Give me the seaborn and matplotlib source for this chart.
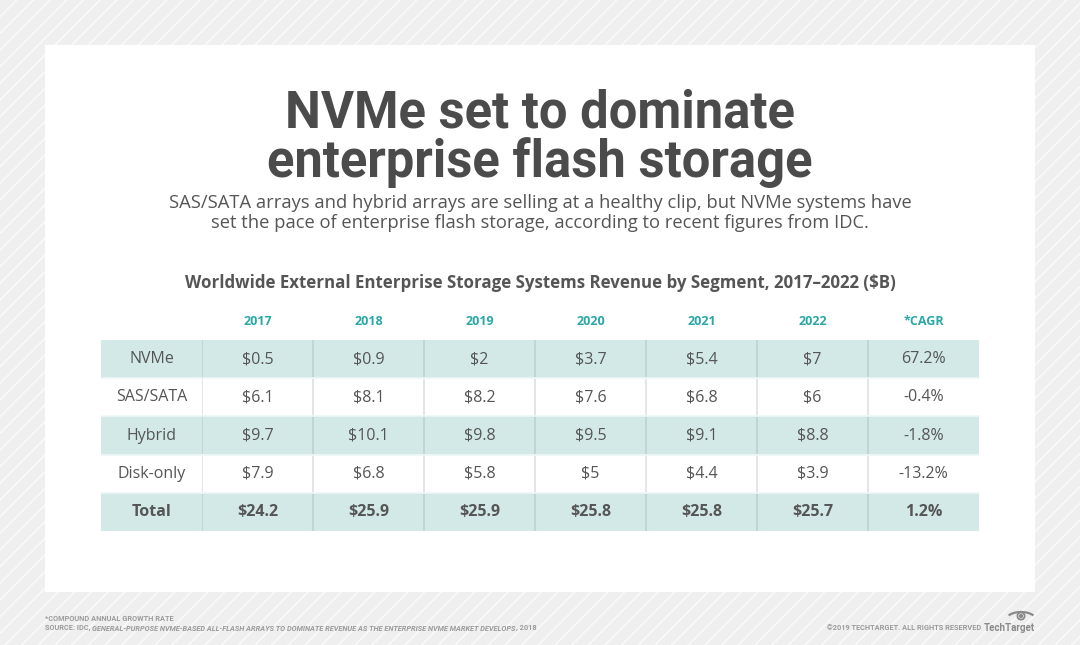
import matplotlib
matplotlib.use('Agg')
import matplotlib.pyplot as plt
import seaborn as sns
import numpy as np
import pandas as pd
from matplotlib.colors import ListedColormap
from matplotlib.patches import Rectangle, Circle, Arc

# ---------------- data ----------------
segments = ['NVMe', 'SAS/SATA', 'Hybrid', 'Disk-only', 'Total']
years = ['2017', '2018', '2019', '2020', '2021', '2022']
nvme = [0.5, 0.9, 2, 3.7, 5.4, 7]
sas_sata = [6.1, 8.1, 8.2, 7.6, 6.8, 6]
hybrid = [9.7, 10.1, 9.8, 9.5, 9.1, 8.8]
disk_only = [7.9, 6.8, 5.8, 5, 4.4, 3.9]
total = [24.2, 25.9, 25.9, 25.8, 25.8, 25.7]
cagr = [67.2, -0.4, -1.8, -13.2, 1.2]
col_labels = years + ['*CAGR']

title_lines = ['NVMe set to dominate', 'enterprise flash storage']
subtitle_lines = ['SAS/SATA arrays and hybrid arrays are selling at a healthy clip, but NVMe systems have',
                  'set the pace of enterprise flash storage, according to recent figures from IDC.']
chart_title = 'Worldwide External Enterprise Storage Systems Revenue by Segment, 2017\u20132022 ($B)'
footnote = '*COMPOUND ANNUAL GROWTH RATE'
source_parts = ['SOURCE: IDC, ',
                'GENERAL-PURPOSE NVME-BASED ALL-FLASH ARRAYS TO DOMINATE REVENUE AS THE ENTERPRISE NVME MARKET DEVELOPS',
                ', 2018']
copyright_txt = '\u00a92019 TECHTARGET. ALL RIGHTS RESERVED'
logo_txt = 'TechTarget'

# ---------------- styling ----------------
sns.set_theme(style='white')
BODY = ['Open Sans', 'DejaVu Sans']
HEAD = ['Roboto', 'DejaVu Sans']
plt.rcParams['font.family'] = BODY
plt.rcParams['hatch.linewidth'] = 1.1
plt.rcParams['hatch.color'] = '#fafafa'

TEXT = '#555555'
TEAL_BG = '#d3e9e8'
TEAL_TX = '#2aa7a7'
FOOT = '#9b9b9b'

W, H = 1080, 645
fig = plt.figure(figsize=(W / 100, H / 100), dpi=100)

# background axes in pixel coordinates
bg = fig.add_axes([0, 0, 1, 1])
bg.set_xlim(0, W)
bg.set_ylim(H, 0)
bg.axis('off')
bg.set_zorder(0)
bg.add_patch(Rectangle((0, 0), W, H, facecolor='#efefef', edgecolor='#fafafa',
                       hatch='//', lw=0, zorder=0))
bg.add_patch(Rectangle((45, 45), 990, 547, facecolor='white', edgecolor='none', zorder=1))

# titles
bg.text(540, 128, title_lines[0], ha='center', va='baseline', fontsize=36.5,
        fontweight='bold', family=HEAD, color='#4b4b4b', zorder=3)
bg.text(540, 177, title_lines[1], ha='center', va='baseline', fontsize=36.5,
        fontweight='bold', family=HEAD, color='#4b4b4b', zorder=3)
bg.text(540, 208, subtitle_lines[0], ha='center', va='baseline', fontsize=13.2,
        color=TEXT, zorder=3)
bg.text(540, 228, subtitle_lines[1], ha='center', va='baseline', fontsize=13.2,
        color=TEXT, zorder=3)
bg.text(540, 288, chart_title, ha='center', va='baseline', fontsize=12.2,
        fontweight='bold', color=TEXT, zorder=3)

# footer
fkw = dict(fontsize=5.3, fontweight='bold', family=HEAD, color=FOOT, zorder=3)
bg.text(45, 621, footnote, ha='left', va='baseline', **fkw)
t0 = bg.text(45, 630, source_parts[0], ha='left', va='baseline', **fkw)
t1 = bg.annotate(source_parts[1], xy=(1, 0), xycoords=t0, ha='left', va='bottom',
                 fontstyle='italic', **fkw)
bg.annotate(source_parts[2], xy=(1, 0), xycoords=t1, ha='left', va='bottom', **fkw)
bg.text(981, 630, copyright_txt, ha='right', va='baseline', **fkw)
bg.text(1035, 631, logo_txt, ha='right', va='baseline', fontsize=7,
        fontweight='bold', family=HEAD, color='#8a8a8a', zorder=3)
bg.add_patch(Circle((1021, 616), 3.6, fill=False, lw=1.3, ec='#8a8a8a', zorder=3))
bg.add_patch(Circle((1021, 616), 1.4, color='#8a8a8a', zorder=3))
bg.add_patch(Arc((1021, 620), 30, 16, theta1=200, theta2=340, lw=1.6,
                 color='#8a8a8a', zorder=3))

# ---------------- table via heatmaps ----------------
values = [nvme, sas_sata, hybrid, disk_only, total]
annot = np.array([['${:g}'.format(v) for v in row] + ['{:.1f}%'.format(c)]
                  for row, c in zip(values, cagr)])
stripe = np.array([[i % 2] * len(col_labels) for i in range(len(segments))])
cmap = ListedColormap([TEAL_BG, '#ffffff'])

top, bottom = 340, 531
left_lbl, mid, right = 101, 202, 979

def fig_rect(x0, x1):
    return [x0 / W, (H - bottom) / H, (x1 - x0) / W, (bottom - top) / H]

ax_lbl = fig.add_axes(fig_rect(left_lbl, mid))
ax_dat = fig.add_axes(fig_rect(mid, right))
for a in (ax_lbl, ax_dat):
    a.set_zorder(2)

cell_kw = {'color': TEXT, 'fontsize': 11.5}
sns.heatmap(stripe[:, :1], ax=ax_lbl, cmap=cmap, vmin=0, vmax=1, cbar=False,
            annot=np.array(segments).reshape(-1, 1), fmt='', annot_kws=cell_kw,
            xticklabels=False, yticklabels=False)
sns.heatmap(pd.DataFrame(stripe, index=segments, columns=col_labels), ax=ax_dat,
            cmap=cmap, vmin=0, vmax=1, cbar=False, annot=annot, fmt='',
            annot_kws=cell_kw, xticklabels=col_labels, yticklabels=False)

for a in (ax_lbl, ax_dat):
    a.set_xlabel('')
    a.set_ylabel('')
    for t in a.texts:
        if abs(t.get_position()[1] - (len(segments) - 0.5)) < 1e-6:
            t.set_fontweight('bold')

ax_dat.xaxis.tick_top()
ax_dat.tick_params(axis='x', length=0, pad=9, labelsize=9, labelcolor=TEAL_TX,
                   rotation=0)
for t in ax_dat.get_xticklabels():
    t.set_fontweight('bold')

for x in range(len(col_labels)):
    ax_dat.axvline(x, color='#8a9a9a', alpha=0.25, lw=1.4)
for a in (ax_lbl, ax_dat):
    for y in range(1, len(segments)):
        a.axhline(y, color='#eef6f6', lw=1.2)

fig.savefig('out.png', dpi=100)
